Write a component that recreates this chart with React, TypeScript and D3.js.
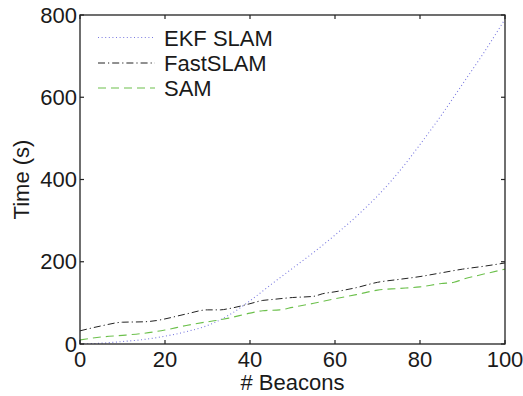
import React from "react";
import * as d3 from "d3";

const ekfX = [0, 5, 10, 15, 20, 25, 30, 35, 40, 45, 50, 55, 60, 65, 70, 75, 80, 85, 90, 95, 100];
const ekfY = [0, 2, 6, 11, 19, 30, 45, 70, 105, 145, 184, 223, 265, 310, 360, 418, 485, 556, 632, 708, 790];

const fastX = [0, 5, 10, 15, 18, 20, 25, 30, 33, 35, 40, 43, 45, 50, 55, 57, 60, 65, 70, 75, 80, 85, 90, 95, 100];
const fastY = [32, 44, 53, 54, 57, 61, 73, 83, 83, 86, 98, 106, 108, 113, 116, 122, 127, 137, 150, 157, 164, 173, 182, 189, 197];

const samX = [0, 5, 10, 15, 20, 25, 30, 32, 35, 40, 43, 47, 50, 55, 60, 65, 70, 75, 80, 85, 88, 90, 95, 100];
const samY = [10, 17, 21, 26, 34, 45, 54, 57, 63, 75, 81, 83, 89, 99, 110, 120, 131, 135, 139, 147, 150, 157, 170, 182];

const xTicks = [0, 20, 40, 60, 80, 100];
const yTicks = [0, 200, 400, 600, 800];

const seriesNames = ["EKF SLAM", "FastSLAM", "SAM"];

const W = 523;
const H = 396;
const L = 80, R = 505, T = 15, B = 344;
const FONT = "'Liberation Sans', Arial, Helvetica, sans-serif";

export default function App() {
  const x = d3.scaleLinear().domain([0, 100]).range([L, R]);
  const y = d3.scaleLinear().domain([0, 800]).range([B, T]);
  const line = d3
    .line<[number, number]>()
    .x((d) => x(d[0]))
    .y((d) => y(d[1]))
    .curve(d3.curveMonotoneX);

  const series = [
    { name: seriesNames[0], xs: ekfX, ys: ekfY, color: "#7a7ae0", dash: "1,2.6", width: 1.1 },
    { name: seriesNames[1], xs: fastX, ys: fastY, color: "#222", dash: "7,3,1.2,3", width: 1 },
    { name: seriesNames[2], xs: samX, ys: samY, color: "#6cc04c", dash: "8,5", width: 1.1 },
  ];
  const tickLen = 4;
  const legendY = [37.5, 63, 88];

  return (
    <svg
      width={W}
      height={H}
      style={{ position: "absolute", left: 0, top: 0, background: "#fff" }}
      fontFamily={FONT}
    >
      <rect x={0} y={0} width={W} height={H} fill="#fff" />
      <defs>
        <clipPath id="plot">
          <rect x={L} y={T - 2} width={R - L} height={B - T + 2} />
        </clipPath>
      </defs>
      <g clipPath="url(#plot)">
        {series.map((s) => (
          <path
            key={s.name}
            d={line(s.xs.map((v, i) => [v, s.ys[i]] as [number, number])) || ""}
            fill="none"
            stroke={s.color}
            strokeWidth={s.width}
            strokeDasharray={s.dash}
          />
        ))}
      </g>
      <rect x={L} y={T} width={R - L} height={B - T} fill="none" stroke="#222" strokeWidth={1.3} />
      {xTicks.map((t) => (
        <g key={"x" + t}>
          <line x1={x(t)} x2={x(t)} y1={B} y2={B - tickLen} stroke="#222" strokeWidth={1.2} />
          <line x1={x(t)} x2={x(t)} y1={T} y2={T + tickLen} stroke="#222" strokeWidth={1.2} />
          <text x={x(t)} y={367} textAnchor="middle" fontSize={22} fill="#1a1a1a">
            {t}
          </text>
        </g>
      ))}
      {yTicks.map((t) => (
        <g key={"y" + t}>
          <line x1={L} x2={L + tickLen} y1={y(t)} y2={y(t)} stroke="#222" strokeWidth={1.2} />
          <line x1={R} x2={R - tickLen} y1={y(t)} y2={y(t)} stroke="#222" strokeWidth={1.2} />
          <text x={77} y={y(t) + 7.5} textAnchor="end" fontSize={22} fill="#1a1a1a">
            {t}
          </text>
        </g>
      ))}
      <text x={(L + R) / 2} y={390} textAnchor="middle" fontSize={22} fill="#1a1a1a">
        # Beacons
      </text>
      <text
        transform={`translate(29,${(T + B) / 2}) rotate(-90)`}
        textAnchor="middle"
        fontSize={22}
        fill="#1a1a1a"
      >
        Time (s)
      </text>
      {series.map((s, i) => (
        <g key={"lg" + s.name}>
          <line
            x1={98}
            x2={155}
            y1={legendY[i]}
            y2={legendY[i]}
            stroke={s.color}
            strokeWidth={s.width}
            strokeDasharray={s.dash}
          />
          <text x={164} y={legendY[i] + 8} fontSize={22} fill="#1a1a1a">
            {s.name}
          </text>
        </g>
      ))}
    </svg>
  );
}
